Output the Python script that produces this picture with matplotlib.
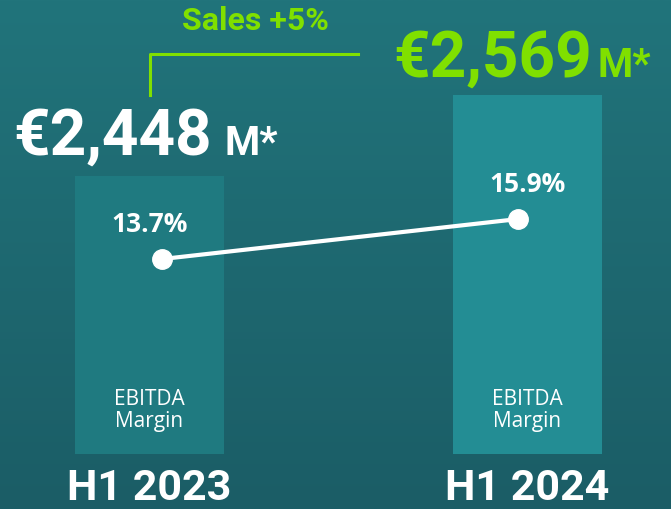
import numpy as np
import matplotlib

matplotlib.use("Agg")
import matplotlib.pyplot as plt
from matplotlib.colors import LinearSegmentedColormap

# -- data ------------------------------------------------------------------------------
periods = ["H1 2023", "H1 2024"]
sales = ["€2,448", "€2,569"]
sales_growth = "Sales +5%"
bar_heights = [278, 359]          # decorative bar heights (display units)
ebitda_margin = [13.7, 15.9]
margin_labels = ["13.7%", "15.9%"]

W, H = 671, 509
BG_TOP, BG_BOT = "#21747b", "#1b5d66"
BAR_COLORS = ["#1f7a80", "#238d94"]
GREEN, WHITE = "#80e000", "#ffffff"
BIG = "Roboto"
BODY = "Open Sans"

fig = plt.figure(figsize=(W / 100, H / 100), dpi=100)
ax = fig.add_axes([0, 0, 1, 1])

# background gradient
cmap = LinearSegmentedColormap.from_list("bg", [BG_TOP, BG_BOT])
ax.imshow(np.linspace(0, 1, 256).reshape(-1, 1), cmap=cmap, aspect="auto",
          extent=(-0.3955, 1.3796, -55, 454), zorder=0)

x = np.arange(len(periods))
ax.bar(x, bar_heights, width=0.394, color=BAR_COLORS, zorder=1)
ax.set_xlim(-0.3955, 1.3796)
ax.set_ylim(-55, 454)
ax.axis("off")

# margin line on its own scale
ax2 = ax.twinx()
ax2.set_ylim(-0.05, 27.95)
ax2.axis("off")
lx = x + np.array([0.033, -0.025])
ax2.plot(lx, ebitda_margin, color=WHITE, lw=3, marker="o", ms=14,
         solid_capstyle="round", zorder=3)
for xi, m, lab, per in zip(x, ebitda_margin, margin_labels, periods):
    ax2.annotate(lab, (xi, m), xytext=(0, 15), textcoords="offset points",
                 ha="center", va="bottom", color=WHITE, fontsize=19,
                 fontweight="bold", family=BODY)
    ax.text(xi, 22, "EBITDA\nMargin", ha="center", va="bottom", color=WHITE,
            fontsize=15, family=BODY, linespacing=1.05)
    ax.text(xi, -46, per, ha="center", va="baseline",
            color=WHITE, fontsize=31, fontweight="bold", family=BIG)


def px(xp, yp):
    return xp / W, 1 - yp / H


# sales headline values
fig.text(*px(13, 155), sales[0], color=WHITE, fontsize=46, fontweight="bold",
         family=BIG, va="baseline", ha="left")
fig.text(*px(224, 155), "M*", color=WHITE, fontsize=29, fontweight="bold",
         family=BIG, va="baseline", ha="left")
fig.text(*px(393, 77), sales[1], color=GREEN, fontsize=46, fontweight="bold",
         family=BIG, va="baseline", ha="left")
fig.text(*px(597, 77), "M*", color=GREEN, fontsize=29, fontweight="bold",
         family=BIG, va="baseline", ha="left")

# growth bracket
fig.text(*px(255, 21), sales_growth, color=GREEN, fontsize=23, fontweight="bold",
         family=BIG, va="center", ha="center")
fig.add_artist(plt.Line2D([150 / W, 150 / W, 358 / W],
                          [1 - 95 / H, 1 - 54 / H, 1 - 54 / H],
                          color=GREEN, lw=2.2, transform=fig.transFigure))

fig.savefig("out.png", dpi=100)
